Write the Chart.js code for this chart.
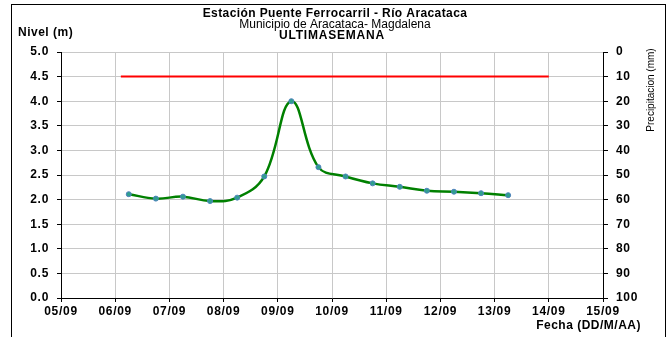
<!DOCTYPE html>
<html>
<head>
<meta charset="utf-8">
<script src="https://cdn.jsdelivr.net/npm/chart.js@4/dist/chart.umd.min.js"></script>
<style>
  html, body { margin: 0; padding: 0; background: #fff; }
  #wrap { position: relative; width: 669px; height: 337px; }
  #frame { position: absolute; left: 11px; top: 4px; width: 655px; height: 340px; border: 1px solid #000; box-sizing: border-box; pointer-events: none; }
</style>
</head>
<body>
<div id="wrap">
  <canvas id="myChart" width="669" height="337"></canvas>
  <div id="frame"></div>
</div>
<script>
// Etiquetas de fecha del eje X (un día por marca)
const dayLabels = ['05/09', '06/09', '07/09', '08/09', '09/09', '10/09', '11/09', '12/09', '13/09', '14/09', '15/09'];

// Lecturas de nivel (cada 12 horas)
const readingTimes = ['06/09 06:00', '06/09 18:00', '07/09 06:00', '07/09 18:00', '08/09 06:00', '08/09 18:00',
  '09/09 06:00', '09/09 18:00', '10/09 06:00', '10/09 18:00', '11/09 06:00', '11/09 18:00',
  '12/09 06:00', '12/09 18:00', '13/09 06:00'];
const levelValues = [2.11, 2.02, 2.06, 1.97, 2.04, 2.47, 4.00, 2.66, 2.47, 2.33, 2.26, 2.18, 2.16, 2.13, 2.09];

// Nivel de alerta
const alertTimes = ['06/09 02:30', '14/09 00:00'];
const alertValues = [4.5, 4.5];

// Ticks de los ejes Y
const levelTicks = [0, 0.5, 1, 1.5, 2, 2.5, 3, 3.5, 4, 4.5, 5];
const rainTicks = [0, 10, 20, 30, 40, 50, 60, 70, 80, 90, 100];

// convierte 'DD/MM HH:MM' a días desde 05/09
function toDay(s) {
    const [d, t] = s.split(' ');
    const idx = dayLabels.indexOf(d);
    const [h, m] = t.split(':').map(Number);
    return idx + (h + m / 60) / 24;
}

const levelData = readingTimes.map((t, i) => ({ x: toDay(t), y: levelValues[i] }));
const alertData = alertTimes.map((t, i) => ({ x: toDay(t), y: alertValues[i] }));

const FONT = 'Liberation Sans, Arial, sans-serif';

// espaciado de letras para parecerse al original
const spacingPlugin = {
    id: 'espaciado',
    beforeDraw(chart) { chart.ctx.letterSpacing = '0.7px'; }
};

// textos extra: títulos y nombres de ejes
const textPlugin = {
    id: 'textos',
    afterDraw(chart) {
        const c = chart.ctx;
        c.save();
        c.fillStyle = '#000';
        c.textAlign = 'center';
        c.textBaseline = 'middle';
        c.letterSpacing = '0.4px';
        c.font = 'bold 12px ' + FONT;
        c.fillText('Estación Puente Ferrocarril - Río Aracataca', 335, 14);
        c.letterSpacing = '0px';
        c.font = '12px ' + FONT;
        c.fillText('Municipio de Aracataca- Magdalena', 335, 25);
        c.letterSpacing = '0.8px';
        c.font = 'bold 12px ' + FONT;
        c.fillText('ULTIMASEMANA', 332, 36);

        c.letterSpacing = '0.5px';
        c.textAlign = 'left';
        c.fillText('Nivel (m)', 18, 33);

        c.textAlign = 'right';
        c.fillText('Fecha (DD/M/AA)', 641, 326);

        c.letterSpacing = '0px';
        c.translate(651, 90);
        c.rotate(-Math.PI / 2);
        c.textAlign = 'center';
        c.font = '10px ' + FONT;
        c.fillText('Precipitacion (mm)', 0, 0);
        c.restore();
    }
};

const ctx = document.getElementById('myChart').getContext('2d');
const myChart = new Chart(ctx, {
    type: 'line',
    data: {
        datasets: [
            {
                label: 'Nivel',
                data: levelData,
                borderColor: '#008000',
                borderWidth: 2.5,
                tension: 0.4,
                pointRadius: 2.5,
                pointBackgroundColor: '#2f9f8f',
                pointBorderColor: '#4f81bd',
                pointBorderWidth: 1,
                yAxisID: 'y'
            },
            {
                label: 'Alerta',
                data: alertData,
                borderColor: '#ff0000',
                borderWidth: 2,
                pointRadius: 0,
                tension: 0,
                yAxisID: 'y'
            }
        ]
    },
    options: {
        responsive: false,
        animation: false,
        layout: { padding: { left: 0, right: 0, top: 52, bottom: 0 } },
        plugins: { legend: { display: false }, tooltip: { enabled: false } },
        scales: {
            x: {
                type: 'linear',
                min: 0,
                max: 10,
                afterBuildTicks(axis) { axis.ticks = dayLabels.map((_, i) => ({ value: i })); },
                afterFit(axis) { axis.height = 39; },
                ticks: {
                    callback: v => dayLabels[v],
                    color: '#000',
                    font: { family: FONT, size: 12, weight: 'bold' },
                    maxRotation: 0,
                    autoSkip: false,
                    padding: 2
                },
                grid: { color: '#c8c8c8', tickColor: '#000', tickLength: 4 },
                border: { color: '#000', width: 1 }
            },
            y: {
                position: 'left',
                min: 0,
                max: 5,
                afterBuildTicks(axis) { axis.ticks = levelTicks.map(v => ({ value: v })); },
                afterFit(axis) { axis.width = 61; },
                ticks: {
                    callback: v => v.toFixed(1),
                    color: '#000',
                    font: { family: FONT, size: 12, weight: 'bold' },
                    padding: 8
                },
                grid: { color: '#c8c8c8', tickColor: '#000', tickLength: 4 },
                border: { color: '#000', width: 1 }
            },
            y2: {
                position: 'right',
                reverse: true,
                min: 0,
                max: 100,
                afterBuildTicks(axis) { axis.ticks = rainTicks.map(v => ({ value: v })); },
                afterFit(axis) { axis.width = 66; },
                ticks: {
                    color: '#000',
                    font: { family: FONT, size: 12, weight: 'bold' },
                    padding: 8
                },
                grid: { drawOnChartArea: false, tickColor: '#000', tickLength: 5 },
                border: { color: '#000', width: 1 }
            }
        }
    },
    plugins: [spacingPlugin, textPlugin]
});
</script>
</body>
</html>
